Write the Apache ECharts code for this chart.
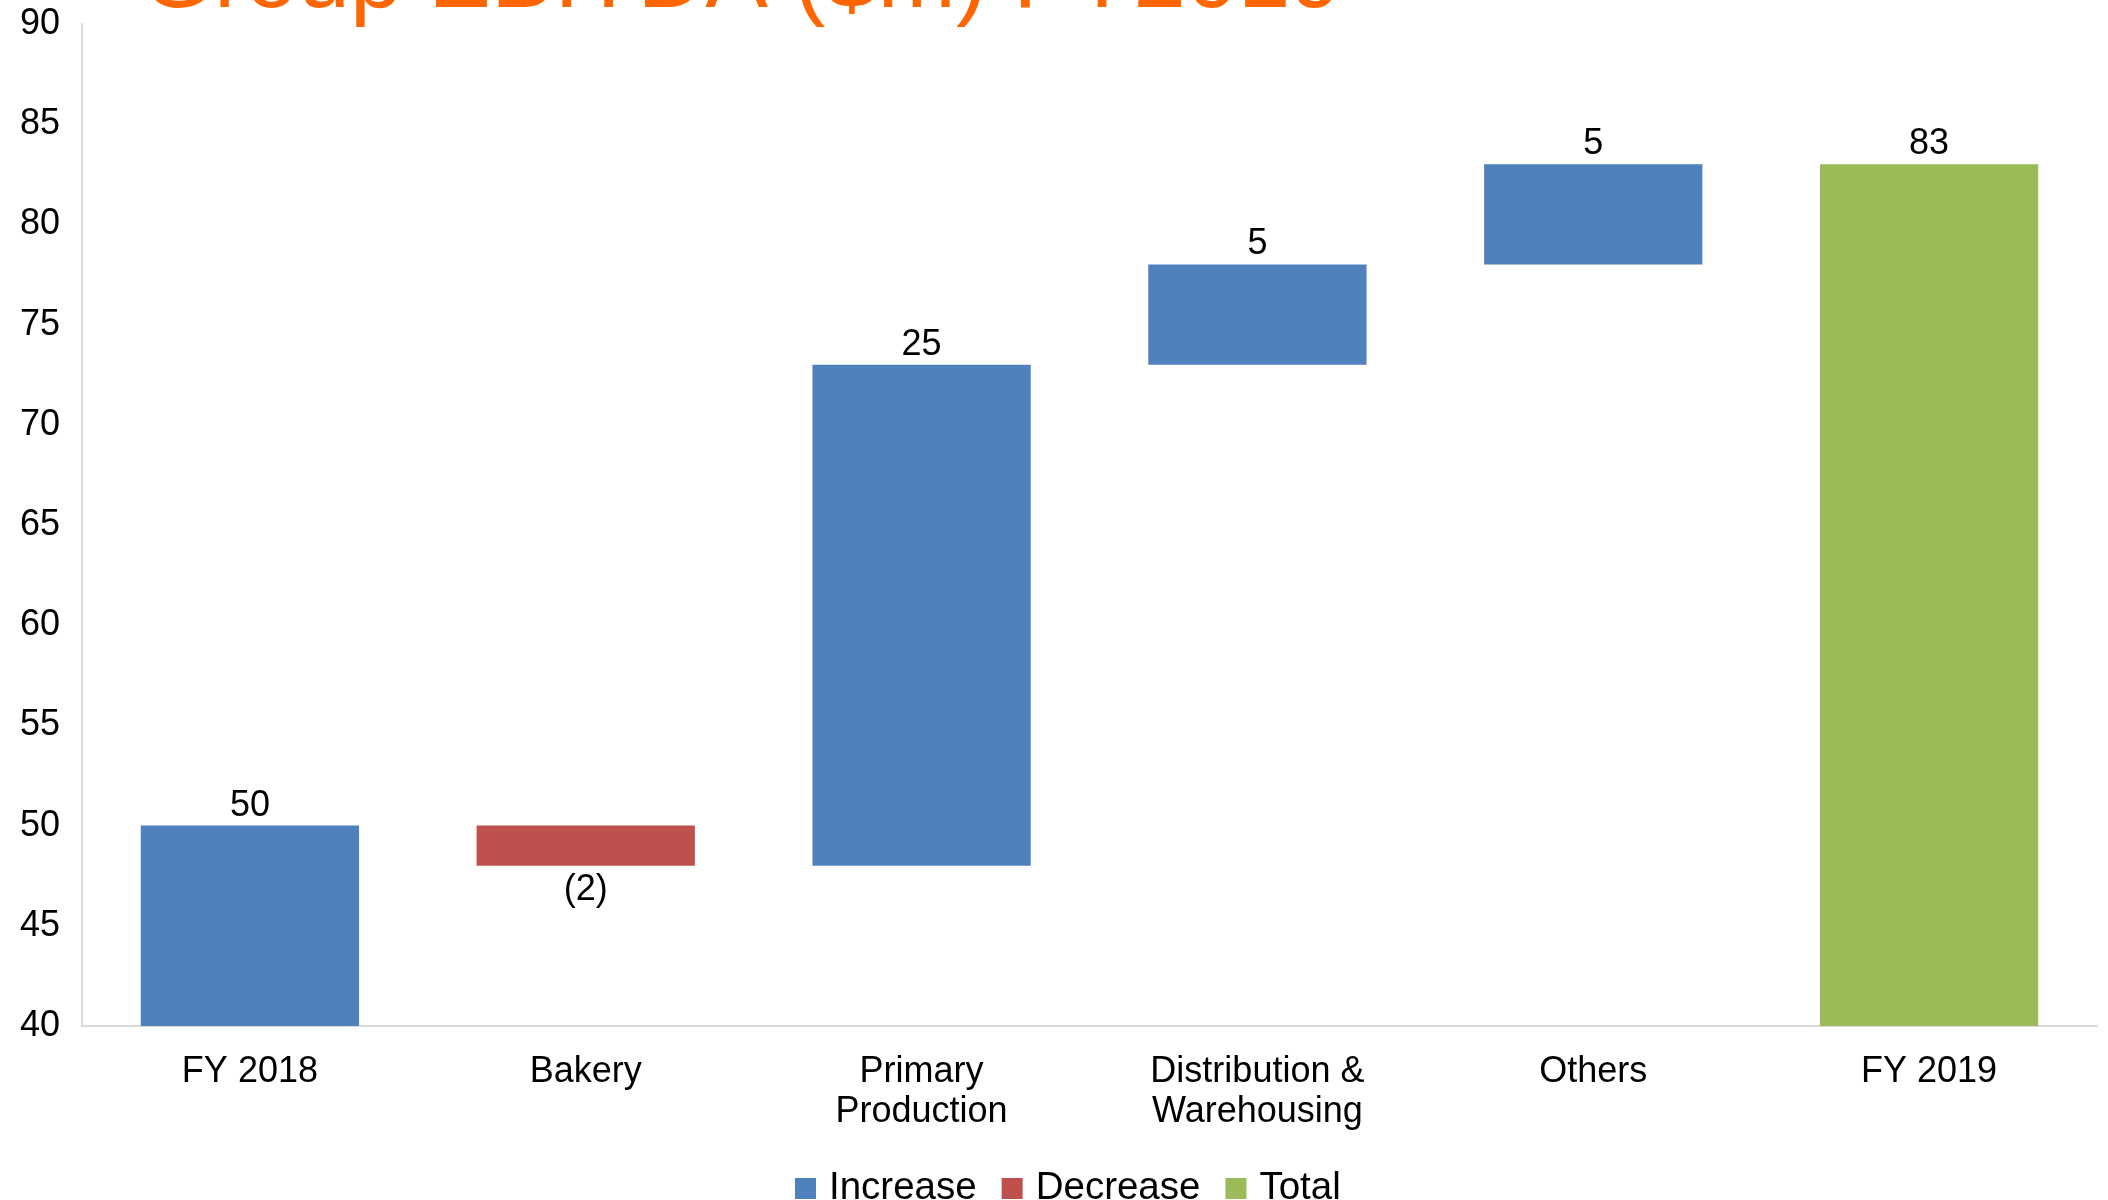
<!DOCTYPE html>
<html>
<head>
<meta charset="utf-8">
<script src="https://cdn.jsdelivr.net/npm/echarts@6/dist/echarts.min.js"></script>
<style>
  html, body { margin: 0; padding: 0; background: #fff; }
  #chart { width: 2108px; height: 1200px; }
</style>
</head>
<body>
<div id="chart"></div>
<script>
// waterfall data ($m)
const categories = ['FY 2018', 'Bakery', 'Primary\nProduction', 'Distribution &\nWarehousing', 'Others', 'FY 2019']
const baseValues = [0, 48, 48, 73, 78, 0]          // invisible offsets
const increaseValues = [50, '-', 25, 5, 5, '-']
const decreaseValues = ['-', 2, '-', '-', '-', '-']
const totalValues = ['-', '-', '-', '-', '-', 83]
const yTicks = { min: 40, max: 90, interval: 5 }

const font = '"Liberation Sans", Arial, sans-serif'
const chart = echarts.init(document.getElementById('chart'))

const option = {
  animation: false,
  textStyle: { fontFamily: font },
  // title sits mostly above the top edge, as in the source slide
  graphic: [{
    type: 'text',
    left: 141,
    top: -66,
    style: {
      text: 'Group EBITDA ($m) FY2019',
      font: '94px ' + font,
      fill: '#FF6600'
    }
  }],
  grid: { left: 82, right: 11, top: 24, bottom: 174 },
  legend: {
    data: ['Increase', 'Decrease', 'Total'],
    top: 1164,
    left: 790,
    icon: 'rect',
    itemWidth: 21,
    itemHeight: 21,
    itemGap: 25,
    textStyle: { fontSize: 38.5, color: '#000', fontFamily: font, padding: [0, 0, 0, 8] }
  },
  xAxis: {
    type: 'category',
    data: categories,
    axisLine: { lineStyle: { color: '#d9d9d9', width: 2 } },
    axisTick: { show: false },
    axisLabel: { color: '#000', fontSize: 36, lineHeight: 40, margin: 26, interval: 0 }
  },
  yAxis: {
    type: 'value',
    min: yTicks.min,
    max: yTicks.max,
    interval: yTicks.interval,
    axisLine: { show: true, lineStyle: { color: '#d9d9d9', width: 2 } },
    axisTick: { show: false },
    splitLine: { show: false },
    axisLabel: { color: '#000', fontSize: 36, margin: 22 }
  },
  series: [
    {
      name: 'Base', type: 'bar', stack: 'wf', barWidth: '65%',
      itemStyle: { color: 'transparent' },
      emphasis: { disabled: true },
      data: baseValues
    },
    {
      name: 'Increase', type: 'bar', stack: 'wf', barWidth: '65%',
      itemStyle: { color: '#4F81BD' },
      label: { show: true, position: 'top', distance: 2, color: '#000', fontSize: 36 },
      data: increaseValues
    },
    {
      name: 'Decrease', type: 'bar', stack: 'wf', barWidth: '65%',
      itemStyle: { color: '#C0504D' },
      label: {
        show: true, position: 'bottom', distance: 6, color: '#000', fontSize: 36,
        formatter: p => '(' + p.value + ')'
      },
      data: decreaseValues
    },
    {
      name: 'Total', type: 'bar', stack: 'wf', barWidth: '65%',
      itemStyle: { color: '#9BBB59' },
      label: { show: true, position: 'top', distance: 2, color: '#000', fontSize: 36 },
      data: totalValues
    }
  ]
}

chart.setOption(option)
</script>
</body>
</html>
